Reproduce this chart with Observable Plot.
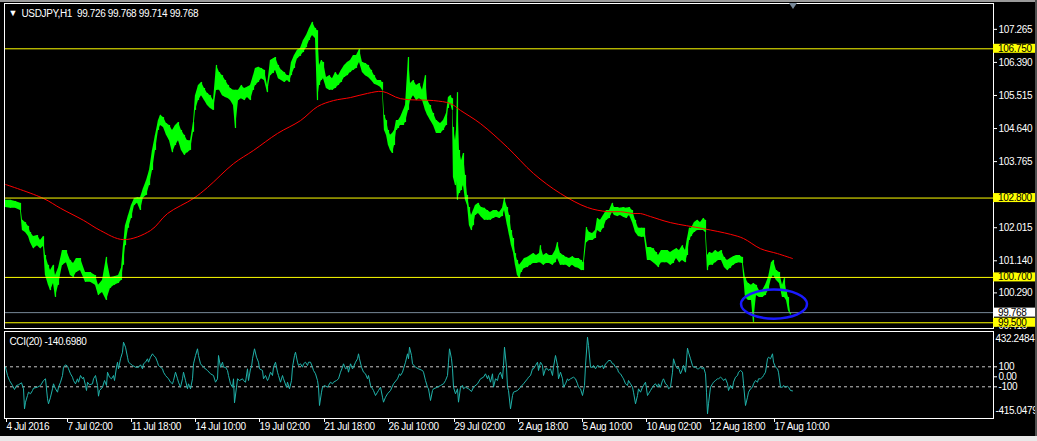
<!DOCTYPE html>
<html><head><meta charset="utf-8">
<script src="https://cdn.jsdelivr.net/npm/d3@7"></script>
<script src="https://cdn.jsdelivr.net/npm/@observablehq/plot@0.6"></script>
<style>
html,body{margin:0;padding:0;background:#000;}
#wrap{position:relative;width:1037px;height:441px;overflow:hidden;background:#000;}
#p1,#p2{position:absolute;left:0;}
#p1{top:0}
#p2{top:330px}
.band{position:absolute;}
</style></head>
<body><div id="wrap"><div id="p1"></div><div id="p2"></div>
<div class="band" style="left:0;top:0;width:1037px;height:2px;background:#9a9a9a"></div>
<div class="band" style="left:0;top:436px;width:1037px;height:5px;background:#e8e8e8"></div>
<div class="band" style="left:1035px;top:0;width:2px;height:436px;background:#505050"></div>
</div>
<script>
// ---- data (bar index = hourly bar position) ----
const symbolTitle = "USDJPY,H1  99.726 99.768 99.714 99.768";
const cciTitle = "CCI(20) -140.6980";
const priceBar = [0,5,10,15,17,20,23,25,28,32,35,38,40,43,45,48,50,53,57,61,65,68,71,75,80,85,90,93,97,101,105,109,113,116,118,120,123,126,129,132,135,138,141,144,147,150,153,155,158,161,164,167,170,173,176,179,182,185,188,190,193,196,199,202,205,208,211,214,217,220,223,225,228,230,233,236,239,242,245,248,250,253,256,259,262,265,268,270,273,276,279,282,284,286,289,292,295,298,301,304,307,310,312,314,316,318,321,324,327,330,333,336,339,342,345,348,351,354,357,360,363,366,369,372,375,377,379,381,383,385,387,389,391,393,395,398,400,403,405,408,411,414,417,420,422,425,428,431,435,438,441,443,445,447,448,450,451,452,454,456,458,460,462,464,466,468,470,473,476,479,482,485,488,491,494,497,499,502,504,506,508,510,512,514,516,519,522,525,528,531,534,535,538,541,544,547,550,552,555,558,561,564,567,570,573,576,578,581,584,587,590,592,595,598,601,604,607,609,612,615,618,621,624,627,630,633,636,639,642,645,648,651,653,656,659,662,665,668,671,674,677,680,682,684,686,689,692,695,698,700,702,704,707,710,713,716,719,722,725,728,731,734,737,740,743,746,748,751,754,757,760,763,766,768,771,774,777,779,781,783,785];
const priceHigh = [102.74,102.74,102.71,102.66,102.21,102.15,102.05,101.89,101.78,101.81,101.68,101.78,101.28,101.02,100.88,101.02,100.75,100.94,101.41,101.41,101.15,101.07,101.20,101.20,100.83,100.83,100.75,100.49,100.62,101.23,100.70,100.72,100.75,100.94,101.54,102.07,102.34,102.60,102.79,102.81,102.81,103.05,103.26,103.53,104.06,104.46,104.85,104.99,104.93,104.77,104.72,104.59,104.72,104.80,104.59,104.46,104.32,104.32,104.80,105.51,105.78,105.86,105.70,105.57,105.51,105.38,106.31,106.12,106.04,105.91,105.78,105.70,105.65,105.65,105.65,105.78,105.70,105.73,105.78,106.04,106.23,106.26,106.23,106.18,105.78,106.44,106.49,106.52,106.31,106.18,106.12,106.04,106.04,106.39,106.57,106.71,106.76,106.97,107.10,107.29,107.45,107.29,107.23,106.31,106.44,106.39,105.99,106.04,105.96,106.12,106.04,106.18,106.31,106.39,106.44,106.57,106.57,106.73,106.39,106.36,106.31,106.18,106.04,105.91,105.91,105.86,104.99,104.85,104.59,104.46,104.51,104.59,104.85,104.85,104.93,105.12,105.25,106.52,105.83,105.91,105.78,105.83,105.65,106.04,105.38,105.25,105.04,104.85,104.77,104.85,105.04,105.46,105.51,105.43,104.67,104.32,104.59,105.59,104.06,103.79,103.98,103.40,102.87,102.55,102.34,102.47,102.60,102.66,102.55,102.53,102.47,102.42,102.47,102.47,102.42,102.53,102.79,102.55,102.34,101.94,101.73,101.33,101.15,101.02,101.09,101.20,101.23,101.28,101.33,101.28,101.33,101.54,101.28,101.33,101.28,101.28,101.41,101.62,101.33,101.28,101.23,101.20,101.25,101.20,101.20,101.15,101.09,102.02,101.89,101.86,101.94,102.26,102.21,102.34,102.47,102.47,102.66,102.55,102.55,102.53,102.55,102.53,102.55,102.47,102.21,102.00,102.00,102.00,101.49,101.49,101.46,101.36,101.28,101.41,101.41,101.41,101.36,101.41,101.46,101.41,101.54,101.41,101.73,102.00,102.00,102.15,102.21,102.15,102.26,102.21,101.28,101.36,101.33,101.41,101.36,101.41,101.23,101.15,101.20,101.25,101.28,101.28,101.23,100.67,100.54,100.49,100.54,100.49,100.35,100.35,100.49,100.70,101.09,101.15,100.88,100.83,100.49,100.67,100.35,100.17,99.77];
const priceLow = [102.55,102.53,102.53,102.47,101.94,101.89,101.78,101.62,101.46,101.54,101.46,101.52,100.75,100.49,100.35,100.54,100.17,100.49,101.02,101.09,100.75,100.70,100.83,100.88,100.57,100.57,100.49,100.22,100.30,100.09,100.41,100.49,100.54,100.62,101.02,101.54,102.00,102.26,102.60,102.66,102.47,102.81,102.87,103.13,103.53,104.06,104.59,104.72,104.67,104.46,104.32,104.00,104.19,104.32,104.06,103.93,104.00,104.06,104.54,105.12,105.38,105.51,105.38,105.25,105.17,105.12,105.65,105.65,105.51,105.46,105.43,105.38,105.25,104.64,105.38,105.43,105.38,105.46,105.38,105.65,105.78,105.86,105.96,105.91,105.59,106.04,106.10,106.18,105.96,105.91,105.86,105.91,105.86,106.04,106.23,106.49,106.55,106.65,106.78,106.97,107.10,107.02,105.38,105.78,105.91,105.96,105.70,105.65,105.65,105.70,105.78,105.86,105.99,106.04,106.12,106.18,106.23,106.39,106.12,106.04,105.99,105.91,105.81,105.78,105.73,105.65,104.59,104.46,104.19,104.06,103.98,104.19,104.59,104.64,104.72,104.72,104.80,105.12,105.38,105.51,105.38,105.43,105.38,105.12,104.99,104.85,104.72,104.51,104.51,104.59,104.72,105.17,105.30,105.12,103.34,103.13,103.26,102.74,102.92,103.00,103.13,102.74,102.60,102.07,101.94,102.07,102.34,102.39,102.29,102.21,102.21,102.21,102.26,102.29,102.26,102.31,102.47,102.07,101.81,101.54,101.36,101.02,100.75,100.67,100.83,100.94,100.96,101.02,101.07,101.07,101.09,101.09,101.02,101.07,101.07,101.02,101.09,101.20,101.02,101.02,101.02,100.96,101.02,100.96,100.94,100.88,100.88,101.62,101.68,101.68,101.73,101.94,101.89,102.00,102.21,102.26,102.42,102.34,102.31,102.34,102.29,102.26,102.34,102.15,101.89,101.78,101.76,101.76,101.15,101.15,101.09,101.02,100.96,101.09,101.09,101.09,101.02,101.07,101.20,101.09,101.15,101.09,101.28,101.68,101.78,101.89,101.94,101.94,101.94,101.89,100.88,101.02,101.02,101.09,101.15,101.15,100.96,100.88,100.94,101.02,101.07,101.09,101.07,100.17,100.09,100.09,99.51,100.22,100.17,100.17,100.22,100.35,100.67,100.75,100.62,100.54,100.17,100.17,100.09,99.82,99.71];
const maBar = [0,38,55,78,95,118,145,162,188,202,228,248,272,295,312,328,345,362,377,395,428,445,455,475,502,528,555,582,602,615,628,635,645,665,698,725,738,755,772,787];
const maVal = [103.16,102.79,102.53,102.21,101.94,101.70,101.94,102.39,102.79,103.08,103.71,104.06,104.51,104.85,105.22,105.38,105.46,105.57,105.62,105.43,105.38,105.30,105.12,104.77,104.14,103.45,102.92,102.55,102.44,102.44,102.39,102.39,102.31,102.15,101.99,101.84,101.73,101.46,101.33,101.20];
const cciBar = [0,2,4,7,9,11,13,16,18,19,20,22,23,25,27,28,32,35,38,40,42,43,45,47,48,50,52,53,55,57,58,60,62,63,65,67,68,70,72,73,75,77,78,80,81,82,84,87,88,90,92,93,94,97,99,101,102,104,106,108,109,111,112,113,115,117,118,120,122,123,125,127,130,133,135,137,138,140,142,143,145,147,148,150,152,153,155,157,158,160,163,165,167,168,170,172,173,175,177,178,180,182,183,185,187,188,190,192,193,195,198,202,205,208,210,212,213,215,217,218,220,222,223,225,227,228,229,231,232,234,237,238,240,242,243,245,246,247,249,251,253,254,257,258,260,262,263,265,267,268,270,272,273,275,277,278,281,282,284,286,287,289,290,292,293,295,297,298,300,302,303,305,307,308,310,312,313,314,316,317,319,322,323,325,327,328,331,333,335,337,338,340,342,343,345,347,348,350,352,353,354,356,358,360,362,363,365,367,368,370,372,373,375,377,378,380,382,385,388,392,394,395,397,398,400,402,403,404,406,407,410,413,417,418,420,422,423,425,427,428,432,435,438,440,442,443,444,446,447,448,450,452,453,455,457,458,460,463,466,468,472,475,478,480,482,483,485,487,488,490,492,493,495,497,498,499,501,502,503,505,507,508,512,515,518,522,523,525,527,528,530,532,533,535,537,538,540,542,543,545,547,548,550,552,553,555,557,558,560,562,563,565,568,570,572,573,575,577,579,580,582,583,585,587,588,590,592,595,597,598,600,602,603,605,607,608,610,612,613,615,617,618,620,622,623,625,627,628,630,632,633,635,637,638,640,642,643,645,647,648,650,652,653,655,657,658,660,662,663,665,667,668,670,672,673,675,677,678,680,682,683,685,687,688,690,692,693,695,697,698,700,701,702,703,705,707,708,710,712,713,715,717,718,720,722,723,725,727,728,730,732,733,735,737,738,740,742,743,745,747,748,750,752,753,755,757,758,760,762,763,765,767,768,770,772,773,775,777,778,780,782,783,785,787];
const cciVal = [96,13,-37,-87,-127,-87,-80,-60,-120,-320,-254,-187,-154,-170,-137,-114,-104,-87,-37,-20,-220,-270,-204,-120,-70,-120,-154,-104,-54,13,96,120,106,80,30,-4,-37,-70,-20,-54,13,-20,-4,-87,-137,-54,-80,-70,-20,13,-87,-194,-137,-104,-37,-87,46,-4,-20,13,-37,96,146,80,180,246,346,296,196,146,130,113,96,96,120,80,130,146,180,146,196,230,213,196,146,113,96,80,46,13,-20,-54,-70,-37,46,-20,-54,-104,-20,46,-37,-120,-70,-120,-20,130,213,280,213,130,96,63,30,13,-54,-20,213,96,146,96,96,63,13,-70,-104,-20,-260,-104,-20,-37,-20,-37,-54,80,-37,80,96,180,280,196,146,80,63,-20,13,-37,-20,46,13,96,146,46,13,-54,13,-20,-104,-54,-120,-37,96,213,246,146,113,130,96,130,146,113,146,146,96,63,30,-37,-104,-287,-154,-104,-87,-104,-87,-54,-70,-54,-37,-20,46,96,130,80,96,46,130,80,96,146,180,230,180,96,46,30,-20,13,-87,-120,-137,-187,-154,-137,-104,-204,-254,-204,-170,-137,-70,-20,30,13,46,80,146,230,180,296,213,130,96,80,63,46,-37,-104,-120,-237,-137,-120,-104,-87,-70,-37,13,146,280,180,80,-104,-170,-120,-254,-104,-87,-120,-104,-120,-147,-104,-70,-20,-4,30,-20,13,-54,30,-104,-20,-37,13,46,-20,113,296,96,-104,-137,-320,-187,-154,-137,-104,-70,-20,-4,13,80,80,113,146,63,146,113,13,80,80,63,80,13,96,213,113,-20,46,-20,-104,-70,-20,-37,-20,-4,-20,-70,-104,-120,-187,-87,113,396,313,96,96,113,80,113,96,113,80,130,146,163,163,130,130,96,80,46,30,-4,-20,-70,-87,-37,-70,-104,-154,-270,-187,-120,-154,-104,-87,-54,-187,-170,-137,-104,-87,-70,-104,-70,-104,-37,-20,-70,-87,-120,-104,46,180,113,80,96,30,80,113,46,286,246,180,113,96,96,80,80,96,80,96,30,-154,-370,-270,-104,-70,-54,-37,-20,-20,-4,-20,-37,-20,-70,-137,-87,-120,-54,-4,13,46,63,46,-70,-287,-204,-154,-120,-104,-70,-37,-54,-20,-20,-4,13,46,180,196,180,230,146,96,80,46,-104,-104,-87,-104,-94,-104,-137,-141];
const levelPrices = [106.75, 102.8, 100.7, 99.5];
const bidPrice = 99.768;
const priceTicks = [107.265, 106.390, 105.515, 104.640, 103.765, 102.015, 101.140, 100.290, 99.415];
const cciLevels = [100, -100];
const cciTicks = [100, 0, -100];
const cciMax = 432.2484, cciMin = -415.0479;
const timeTickBars = [0,61,125,189,253,318,382,448,512,576,640,704,768];
const timeTickLabels = ["4 Jul 2016","7 Jul 02:00","11 Jul 18:00","14 Jul 10:00","19 Jul 02:00","21 Jul 18:00","26 Jul 10:00","29 Jul 02:00","2 Aug 18:00","5 Aug 10:00","10 Aug 02:00","12 Aug 18:00","17 Aug 10:00"];
// annotation ellipse: center bar, center price, half-width in bars, half-height in price
const ellipseNote = {bar: 769, price: 99.98, rBars: 33, rPrice: 0.385};
const shiftMarkerBar = 788;

// ---- build ----
const FONT = "'Liberation Sans', Arial, sans-serif";
const priceData = priceBar.map((b, i) => ({b, hi: priceHigh[i], lo: priceLow[i]}));
const maData = maBar.map((b, i) => ({b, v: maVal[i]}));
const cciData = cciBar.map((b, i) => ({b, v: cciVal[i]}));
const xDomain = [-1, 988];

const p1 = Plot.plot({
  width: 1037, height: 330,
  marginLeft: 4, marginRight: 44, marginTop: 3, marginBottom: 2,
  style: {background: "transparent", color: "#ffffff", fontFamily: FONT, fontSize: "10px", overflow: "visible"},
  x: {domain: xDomain, axis: null},
  y: {domain: [99.348, 107.949], axis: null},
  marks: [
    Plot.areaY(priceData, {x: "b", y1: "lo", y2: "hi", fill: "#00ff00", clip: true}),
    Plot.ruleX(priceData, {x: "b", y1: "lo", y2: "hi", stroke: "#00ff00", strokeWidth: 1.2, clip: true}),
    Plot.line(maData, {x: "b", y: "v", stroke: "#ff0000", strokeWidth: 1, curve: "catmull-rom"}),
    Plot.ruleY(levelPrices, {stroke: "#ffff00", strokeWidth: 1}),
    Plot.ruleY([bidPrice], {stroke: "#778899", strokeWidth: 1}),
    Plot.axisY({anchor: "right", ticks: priceTicks, tickFormat: d3.format(".3f"), tickSize: 3, tickPadding: 2, label: null}),
    Plot.frame({stroke: "#ffffff"}),
    Plot.text([symbolTitle], {frameAnchor: "top-left", dx: 17, dy: 10, lineAnchor: "middle", textAnchor: "start", fill: "#ffffff"}),
    Plot.text(["▼"], {frameAnchor: "top-left", dx: 4, dy: 10, lineAnchor: "middle", textAnchor: "start", fill: "#ffffff", fontSize: 9})
  ]
});
p1.style.letterSpacing = "-0.35px";
document.getElementById("p1").appendChild(p1);

// label boxes and annotations from the plot's scales
{
  const sx = p1.scale("x"), sy = p1.scale("y");
  const svg = d3.select(p1);
  const boxes = [
    {v: 106.75, bg: "#ffff00"}, {v: 102.8, bg: "#ffff00"}, {v: 100.7, bg: "#ffff00"},
    {v: bidPrice, bg: "#ffffff"}, {v: 99.5, bg: "#ffff00"}
  ];
  const g = svg.append("g").attr("text-anchor", "start");
  for (const bx of boxes) {
    const y = sy.apply(bx.v);
    g.append("rect").attr("x", 993).attr("y", y - 4.5).attr("width", 44).attr("height", 9).attr("fill", bx.bg);
    g.append("text").attr("x", 998).attr("y", y).attr("dy", "0.35em").attr("fill", "#000")
      .attr("text-anchor", "start").attr("font-size", 10).attr("font-family", FONT).text(d3.format(".3f")(bx.v));
  }
  const cx = sx.apply(ellipseNote.bar), cy = sy.apply(ellipseNote.price);
  svg.append("ellipse").attr("cx", cx).attr("cy", cy)
    .attr("rx", sx.apply(ellipseNote.bar + ellipseNote.rBars) - cx)
    .attr("ry", sy.apply(ellipseNote.price - ellipseNote.rPrice) - cy)
    .attr("fill", "none").attr("stroke", "#1a1aff").attr("stroke-width", 2.5);
  const mx = sx.apply(shiftMarkerBar);
  svg.append("path").attr("d", `M${mx - 4},3L${mx + 4},3L${mx},9Z`).attr("fill", "#778899");
}

const labelMap = new Map(timeTickBars.map((b, i) => [b, timeTickLabels[i]]));
const p2 = Plot.plot({
  width: 1037, height: 111,
  marginLeft: 4, marginRight: 44, marginTop: 1, marginBottom: 23,
  style: {background: "#000", color: "#ffffff", fontFamily: FONT, fontSize: "10px", overflow: "visible"},
  x: {domain: xDomain},
  y: {domain: [-417, 453], axis: null},
  marks: [
    Plot.ruleY(cciLevels, {stroke: "#c8c8c8", strokeDasharray: "3,3", strokeWidth: 1}),
    Plot.line(cciData, {x: "b", y: "v", stroke: "#20b2aa", strokeWidth: 1}),
    Plot.frame({stroke: "#ffffff"}),
    Plot.axisX({anchor: "bottom", ticks: timeTickBars, tickFormat: d => labelMap.get(d), tickSize: 4, tickPadding: 0, textAnchor: "start", dx: 1, label: null}),
    Plot.axisY({anchor: "right", ticks: cciTicks, tickFormat: d => d === 0 ? "0.00" : String(d), tickSize: 3, tickPadding: 2, label: null}),
    Plot.text([cciMax], {y: d => d, text: d => String(d), frameAnchor: "right", dx: 2, dy: 5, textAnchor: "start", fill: "#ffffff"}),
    Plot.text([cciMin], {y: d => d, text: d => String(d), frameAnchor: "right", dx: 2, dy: -8, textAnchor: "start", fill: "#ffffff"}),
    Plot.text([cciTitle], {frameAnchor: "top-left", dx: 5, dy: 10, lineAnchor: "middle", textAnchor: "start", fill: "#ffffff"})
  ]
});
p2.style.letterSpacing = "-0.35px";
document.getElementById("p2").appendChild(p2);
</script></body></html>
